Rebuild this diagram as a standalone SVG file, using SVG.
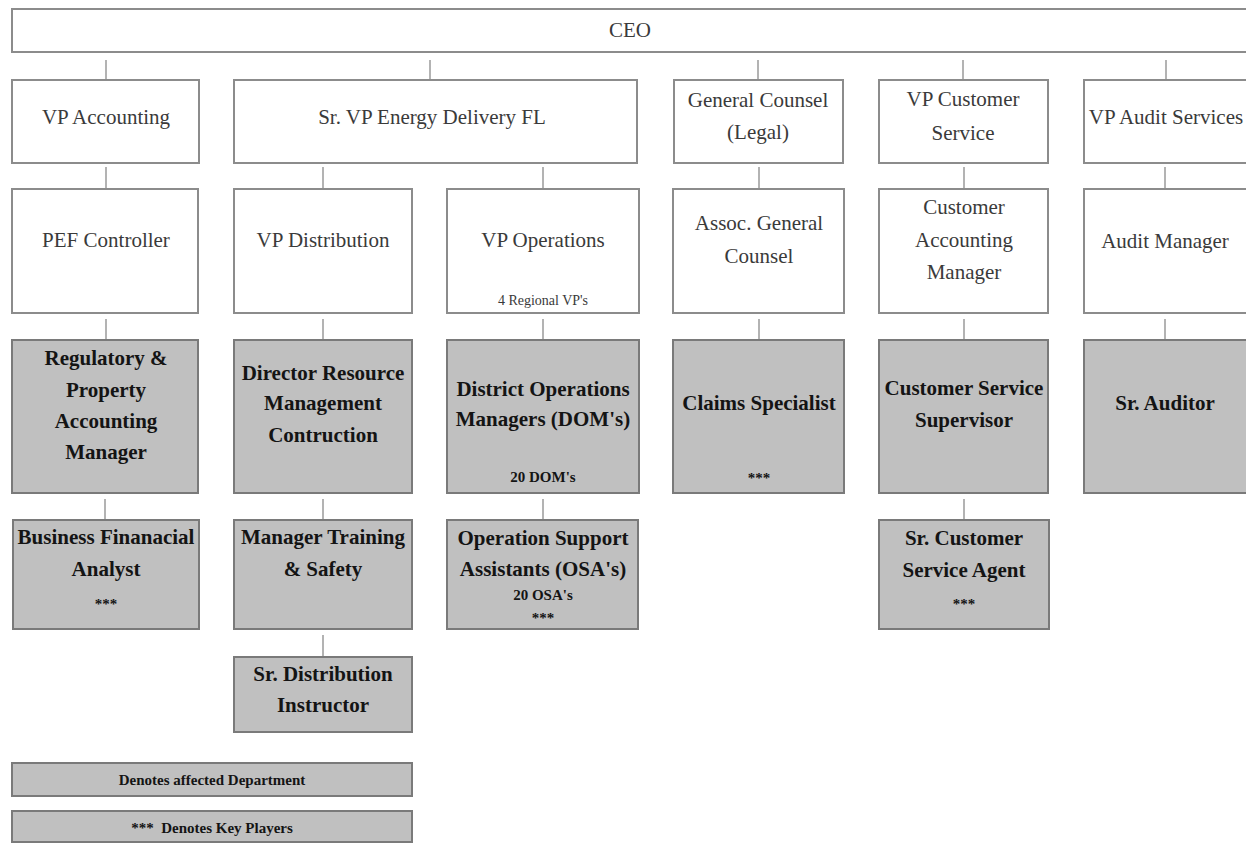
<svg xmlns="http://www.w3.org/2000/svg" width="1246" height="843" viewBox="0 0 1246 843">
<style>
.w{fill:#ffffff;stroke:#8c8c8c;stroke-width:2}
.g{fill:#c0c0c0;stroke:#7a7a7a;stroke-width:2}
.t{font-family:"Liberation Serif","Times New Roman",serif;font-size:21px;fill:#3a3a3a;text-anchor:middle}
.b{font-family:"Liberation Serif","Times New Roman",serif;font-size:21px;font-weight:bold;fill:#141414;text-anchor:middle}
.s{font-family:"Liberation Serif","Times New Roman",serif;font-size:14px;fill:#3a3a3a;text-anchor:middle}
.sb{font-family:"Liberation Serif","Times New Roman",serif;font-size:15px;font-weight:bold;fill:#141414;text-anchor:middle}
.c{stroke:#9a9a9a;stroke-width:1.5;fill:none}
</style>
<rect width="1246" height="843" fill="#ffffff"/>
<g id="connectors">
<line class="c" x1="106" y1="60" x2="106" y2="80"/>
<line class="c" x1="430" y1="60" x2="430" y2="80"/>
<line class="c" x1="758" y1="60" x2="758" y2="80"/>
<line class="c" x1="963" y1="60" x2="963" y2="80"/>
<line class="c" x1="1166" y1="60" x2="1166" y2="80"/>
<line class="c" x1="106" y1="167" x2="106" y2="189"/>
<line class="c" x1="323" y1="167" x2="323" y2="189"/>
<line class="c" x1="543" y1="167" x2="543" y2="189"/>
<line class="c" x1="759" y1="167" x2="759" y2="189"/>
<line class="c" x1="964" y1="167" x2="964" y2="189"/>
<line class="c" x1="1165" y1="167" x2="1165" y2="189"/>
<line class="c" x1="106" y1="319" x2="106" y2="340"/>
<line class="c" x1="323" y1="319" x2="323" y2="340"/>
<line class="c" x1="543" y1="319" x2="543" y2="340"/>
<line class="c" x1="759" y1="319" x2="759" y2="340"/>
<line class="c" x1="964" y1="319" x2="964" y2="340"/>
<line class="c" x1="1165" y1="319" x2="1165" y2="340"/>
<line class="c" x1="105" y1="499" x2="105" y2="520"/>
<line class="c" x1="323" y1="499" x2="323" y2="520"/>
<line class="c" x1="543" y1="499" x2="543" y2="520"/>
<line class="c" x1="964" y1="499" x2="964" y2="520"/>
<line class="c" x1="323" y1="635" x2="323" y2="657"/>
</g>
<g id="ceo"><rect class="w" x="12" y="9" width="1240" height="43"/><text class="t" x="630" y="37">CEO</text></g>
<g id="vp-accounting"><rect class="w" x="12" y="80" width="187" height="83"/><text class="t" x="106" y="124">VP Accounting</text></g>
<g id="sr-vp-energy"><rect class="w" x="234" y="80" width="403" height="83"/><text class="t" x="432" y="124">Sr. VP Energy Delivery FL</text></g>
<g id="general-counsel"><rect class="w" x="674" y="80" width="169" height="83"/><text class="t" x="758" y="107">General Counsel</text><text class="t" x="758" y="139">(Legal)</text></g>
<g id="vp-customer-service"><rect class="w" x="879" y="80" width="169" height="83"/><text class="t" x="963" y="106">VP Customer</text><text class="t" x="963" y="140">Service</text></g>
<g id="vp-audit"><rect class="w" x="1084" y="80" width="166" height="83"/><text class="t" x="1166" y="124">VP Audit Services</text></g>

<g id="pef-controller"><rect class="w" x="12" y="189" width="186" height="124"/><text class="t" x="106" y="247">PEF Controller</text></g>
<g id="vp-distribution"><rect class="w" x="234" y="189" width="178" height="124"/><text class="t" x="323" y="247">VP Distribution</text></g>
<g id="vp-operations"><rect class="w" x="447" y="189" width="192" height="124"/><text class="t" x="543" y="247">VP Operations</text><text class="s" x="543" y="305">4 Regional VP's</text></g>
<g id="assoc-general-counsel"><rect class="w" x="673" y="189" width="171" height="124"/><text class="t" x="759" y="230">Assoc. General</text><text class="t" x="759" y="263">Counsel</text></g>
<g id="customer-accounting-manager"><rect class="w" x="879" y="189" width="169" height="124"/><text class="t" x="964" y="214">Customer</text><text class="t" x="964" y="247">Accounting</text><text class="t" x="964" y="279">Manager</text></g>
<g id="audit-manager"><rect class="w" x="1084" y="189" width="166" height="124"/><text class="t" x="1165" y="248">Audit Manager</text></g>

<g id="regulatory-manager"><rect class="g" x="12" y="340" width="186" height="153"/><text class="b" x="106" y="365">Regulatory &amp;</text><text class="b" x="106" y="397">Property</text><text class="b" x="106" y="428">Accounting</text><text class="b" x="106" y="459">Manager</text></g>
<g id="director-resource"><rect class="g" x="234" y="340" width="178" height="153"/><text class="b" x="323" y="380">Director Resource</text><text class="b" x="323" y="410">Management</text><text class="b" x="323" y="442">Contruction</text></g>
<g id="district-operations"><rect class="g" x="447" y="340" width="192" height="153"/><text class="b" x="543" y="396">District Operations</text><text class="b" x="543" y="426">Managers (DOM's)</text><text class="sb" x="543" y="482">20 DOM's</text></g>
<g id="claims-specialist"><rect class="g" x="673" y="340" width="171" height="153"/><text class="b" x="759" y="410">Claims Specialist</text><text class="sb" x="759" y="483">***</text></g>
<g id="customer-service-supervisor"><rect class="g" x="879" y="340" width="169" height="153"/><text class="b" x="964" y="395">Customer Service</text><text class="b" x="964" y="427">Supervisor</text></g>
<g id="sr-auditor"><rect class="g" x="1084" y="340" width="166" height="153"/><text class="b" x="1165" y="410">Sr. Auditor</text></g>

<g id="business-financial-analyst"><rect class="g" x="13" y="520" width="186" height="109"/><text class="b" x="106" y="544">Business Finanacial</text><text class="b" x="106" y="576">Analyst</text><text class="sb" x="106" y="609">***</text></g>
<g id="manager-training"><rect class="g" x="234" y="520" width="178" height="109"/><text class="b" x="323" y="544">Manager Training</text><text class="b" x="323" y="576">&amp; Safety</text></g>
<g id="operation-support"><rect class="g" x="447" y="520" width="191" height="109"/><text class="b" x="543" y="545">Operation Support</text><text class="b" x="543" y="576">Assistants (OSA's)</text><text class="sb" x="543" y="600">20 OSA's</text><text class="sb" x="543" y="623">***</text></g>
<g id="sr-customer-service-agent"><rect class="g" x="879" y="520" width="170" height="109"/><text class="b" x="964" y="545">Sr. Customer</text><text class="b" x="964" y="577">Service Agent</text><text class="sb" x="964" y="609">***</text></g>
<g id="sr-distribution-instructor"><rect class="g" x="234" y="657" width="178" height="75"/><text class="b" x="323" y="681">Sr. Distribution</text><text class="b" x="323" y="712">Instructor</text></g>

<g id="legend-affected"><rect class="g" x="12" y="763" width="400" height="33"/><text class="sb" x="212" y="785">Denotes affected Department</text></g>
<g id="legend-key"><rect class="g" x="12" y="811" width="400" height="31"/><text class="sb" x="212" y="833">***&#160;&#160;Denotes Key Players</text></g>
</svg>
